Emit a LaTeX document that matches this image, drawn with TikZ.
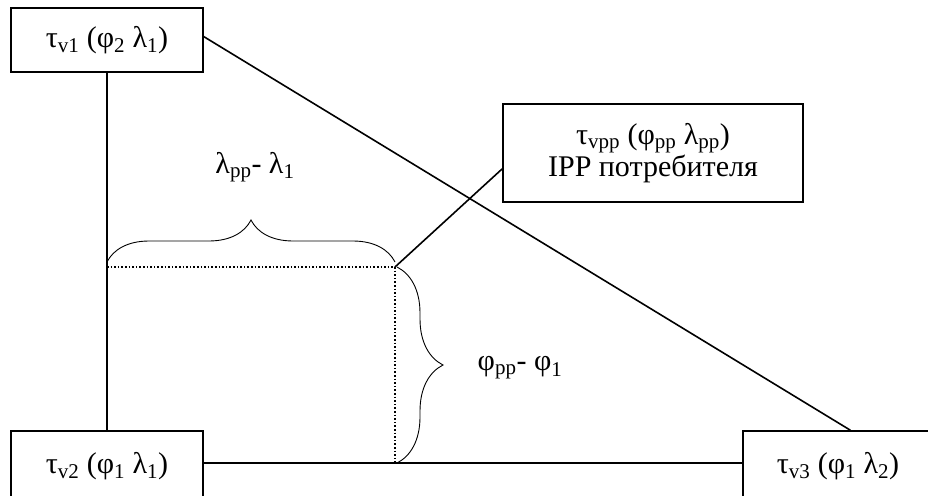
\documentclass[tikz,border=0pt]{standalone}
\usepackage{fontspec}
\setmainfont{Liberation Serif}
\usepackage{tikz}
\usetikzlibrary{decorations.pathreplacing}

\begin{document}
\begin{tikzpicture}[x=1pt, y=-1pt, line width=1.6pt,
    every node/.style={font=\fontsize{30}{32}\selectfont},
    box/.style={draw, inner sep=0pt, align=center},
    bracebig/.style={decorate, line width=0.9pt, decoration={brace, amplitude=#1}}]
  \useasboundingbox (0,0) rectangle (928,495);
  \clip (0,0) rectangle (928,495);
  \node[box, minimum width=192pt, minimum height=64pt] (v1) at (107,40) {τ\textsubscript{v1} (φ\textsubscript{2} λ\textsubscript{1})};
  \node[box, minimum width=192pt, minimum height=70pt] (v2) at (107,466) {τ\textsubscript{v2} (φ\textsubscript{1} λ\textsubscript{1})};
  \node[box, minimum width=190pt, minimum height=70pt] (v3) at (838,466) {τ\textsubscript{v3} (φ\textsubscript{1} λ\textsubscript{2})};
  \node[box, minimum width=300pt, minimum height=98pt] (vpp) at (653,153) {τ\textsubscript{vpp} (φ\textsubscript{pp} λ\textsubscript{pp})\\IPP потребителя};
  \coordinate (P) at (395,267);
  \coordinate (F) at (395,463);
  \draw (v1) -- (v2);
  \draw (v2.east |- F) -- (v3.west |- F);
  \draw (v1.2) -- (v3.71);
  \draw (P) -- (vpp.186);
  \draw[dotted] (v1 |- P) -- (P) -- (F);
  \draw[bracebig=42pt] (107,262) -- (395,262);
  \draw[bracebig=46pt] (397,267) -- (397,463);
  \node (dlam) at (255,167) {λ\textsubscript{pp}- λ\textsubscript{1}};
  \node (dphi) at (520,368) {φ\textsubscript{pp}- φ\textsubscript{1}};
\end{tikzpicture}
\end{document}
